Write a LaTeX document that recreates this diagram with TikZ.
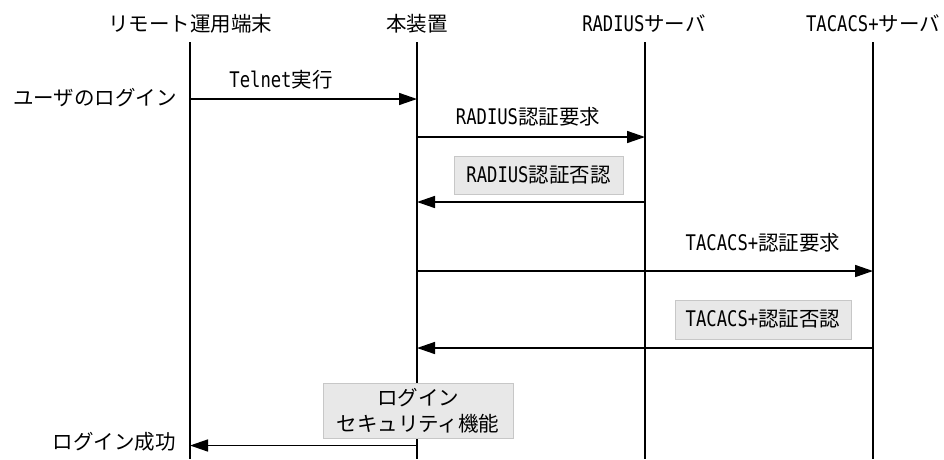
\documentclass[tikz,border=0pt]{standalone}
\usepackage{fontspec}
\setmainfont{Noto Sans CJK JP}
\newfontfamily\latf[FakeStretch=0.8,Scale=1.05]{DejaVu Sans Mono}
\newcommand\lt[1]{{\latf #1}}
\usetikzlibrary{arrows.meta}
\begin{document}
\begin{tikzpicture}[x=1pt,y=-1pt,
  lbl/.style={font=\fontsize{20.5}{24}\selectfont, inner sep=0pt},
  life/.style={line width=1.5pt},
  msg/.style={line width=1.5pt, -{Triangle[length=18pt,width=12pt]}},
  note/.style={draw=black!22, fill=black!9, line width=1pt, font=\fontsize{20.5}{26}\selectfont, align=center, inner sep=0pt}
]
\useasboundingbox (0,0) rectangle (944,459);
% headers
\node[lbl] (hA) at (190,24) {リモート運用端末};
\node[lbl] (hB) at (417,24) {本装置};
\node[lbl] (hC) at (644,24) {\lt{RADIUS}サーバ};
\node[lbl] (hD) at (873,24) {\lt{TACACS+}サーバ};
% lifelines
\coordinate (tA) at (190,42); \coordinate (bA) at (190,459);
\coordinate (tB) at (417,42); \coordinate (bB) at (417,459);
\coordinate (tC) at (645,42); \coordinate (bC) at (645,459);
\coordinate (tD) at (873,42); \coordinate (bD) at (873,459);
\draw[life] (tA) -- (bA);
\draw[life] (tB) -- (bB);
\draw[life] (tC) -- (bC);
\draw[life] (tD) -- (bD);
% messages
\coordinate (m1s) at (190,99); \coordinate (m1e) at (417,99);
\draw[msg] (m1s) -- (m1e);
\node[lbl] (l1) at (281,80) {\lt{Telnet}実行};
\node[lbl, anchor=east] (u) at (177,98) {ユーザのログイン};

\coordinate (m2s) at (417,137); \coordinate (m2e) at (645,137);
\draw[msg] (m2s) -- (m2e);
\node[lbl] (l2) at (528,117) {\lt{RADIUS}認証要求};

\node[note, minimum width=169pt, minimum height=38pt] (n1) at (538.5,175) {\lt{RADIUS}認証否認};
\coordinate (m3s) at (645,202); \coordinate (m3e) at (417,202);
\draw[msg] (m3s) -- (m3e);

\node[lbl] (l4) at (763,243) {\lt{TACACS+}認証要求};
\coordinate (m4s) at (417,271); \coordinate (m4e) at (873,271);
\draw[msg] (m4s) -- (m4e);

\node[note, minimum width=176pt, minimum height=39pt] (n2) at (763,319.5) {\lt{TACACS+}認証否認};
\coordinate (m5s) at (874,348); \coordinate (m5e) at (417,348);
\draw[msg] (m5s) -- (m5e);

\node[note, minimum width=190pt, minimum height=55pt] (n3) at (418,411) {ログイン\\セキュリティ機能};
\coordinate (m6s) at (417,445.5); \coordinate (m6e) at (190,445.5);
\draw[msg] (m6s) -- (m6e);
\node[lbl, anchor=east] (s) at (176,442) {ログイン成功};
\end{tikzpicture}
\end{document}
